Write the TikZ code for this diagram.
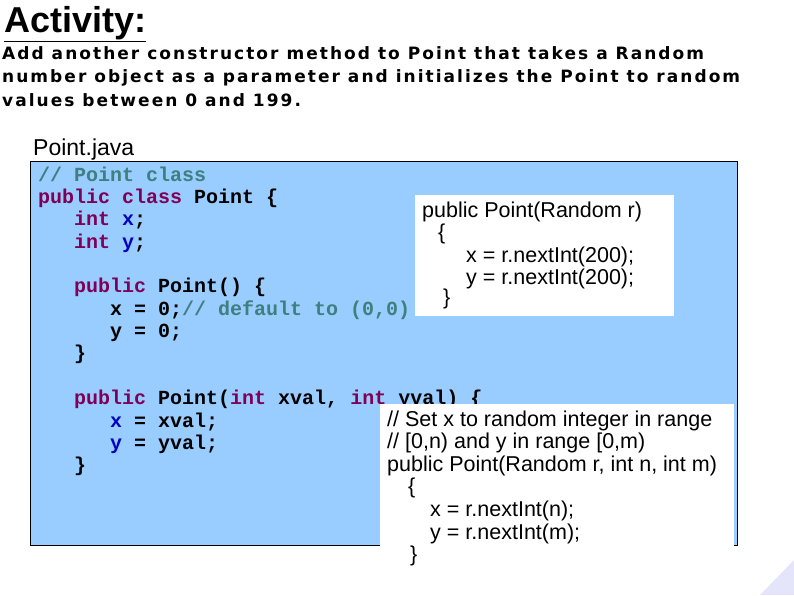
\documentclass[tikz,border=0pt]{standalone}
\usepackage{fontspec}
\setmainfont{Liberation Sans}
\newfontfamily\codefont{Liberation Mono}
\newfontfamily\parafont[LetterSpace=12]{DejaVu Sans}
\usetikzlibrary{positioning}
\definecolor{boxblue}{HTML}{99CCFF}
\definecolor{kwcol}{HTML}{7F0055}
\definecolor{cmcol}{HTML}{3F7F7F}
\definecolor{varcol}{HTML}{0000C0}
\definecolor{cornercol}{HTML}{E4E4FA}
\newcommand{\kw}[1]{\textcolor{kwcol}{#1}}
\newcommand{\cm}[1]{\textcolor{cmcol}{#1}}
\newcommand{\vr}[1]{\textcolor{varcol}{#1}}
\begin{document}
\begin{tikzpicture}[x=1pt,y=-1pt,
  line/.style = {anchor=base west, inner sep=0pt, font=\codefont\bfseries\fontsize{20}{22}\selectfont},
  note/.style = {anchor=base west, inner sep=0pt, font=\fontsize{21.5}{22}\selectfont}
]
  \useasboundingbox (0,0) rectangle (794,595);
  \fill[cornercol] (794,560) -- (794,595) -- (760,595) -- cycle;

  % Title and task
  \node[anchor=base west, inner sep=0pt, font=\bfseries\fontsize{36}{38}\selectfont] (title) at (4,32) {\underline{Activity:}};
  \node[anchor=north west, inner sep=0pt, align=left, font=\parafont\bfseries\fontsize{17}{23.5}\selectfont] (task) at (2,46)
    {Add another constructor method to Point that takes a Random\\number object as a parameter and initializes the Point to random\\values between 0 and 199.};
  \node[anchor=base west, inner sep=0pt, font=\fontsize{23}{24}\selectfont] (file) at (33,155) {Point.java};

  % Code box
  \draw[fill=boxblue] (30,161) rectangle (737,545);
  \node[line] (l1) at (38,181) {\cm{// Point class}};
  \node[line] (l2) at (38,203) {\kw{public class} Point \{};
  \node[line] (l3) at (38,225) {\ \ \ \kw{int} \vr{x};};
  \node[line] (l4) at (38,248) {\ \ \ \kw{int} \vr{y};};
  \node[line] (l5) at (38,292) {\ \ \ \kw{public} Point() \{};
  \node[line] (l6) at (38,315) {\ \ \ \ \ \ x = 0;\cm{// default to (0,0)}};
  \node[line] (l7) at (38,337) {\ \ \ \ \ \ y = 0;};
  \node[line] (l8) at (38,359) {\ \ \ \}};
  \node[line] (l9) at (38,404) {\ \ \ \kw{public} Point(\kw{int} xval, \kw{int} yval) \{};
  \node[line] (l10) at (38,427) {\ \ \ \ \ \ \vr{x} = xval;};
  \node[line] (l11) at (38,449) {\ \ \ \ \ \ \vr{y} = yval;};
  \node[line] (l12) at (38,471) {\ \ \ \}};

  % Answer boxes
  \fill[white] (415,195) rectangle (674,316);
  \node[note] (a1) at (422,217) {public Point(Random r)};
  \node[note] (a2) at (438,239) {\{};
  \node[note] (a3) at (466,262) {x = r.nextInt(200);};
  \node[note] (a4) at (466,284) {y = r.nextInt(200);};
  \node[note] (a5) at (443,304) {\}};

  \fill[white] (380,404) rectangle (734,566);
  \node[note] (b1) at (387,426) {// Set x to random integer in range};
  \node[note] (b2) at (387,448) {// [0,n) and y in range [0,m)};
  \node[note] (b3) at (387,471) {public Point(Random r, int n, int m)};
  \node[note] (b4) at (408,493) {\{};
  \node[note] (b5) at (430,516) {x = r.nextInt(n);};
  \node[note] (b6) at (430,539) {y = r.nextInt(m);};
  \node[note] (b7) at (410,561) {\}};
\end{tikzpicture}
\end{document}
